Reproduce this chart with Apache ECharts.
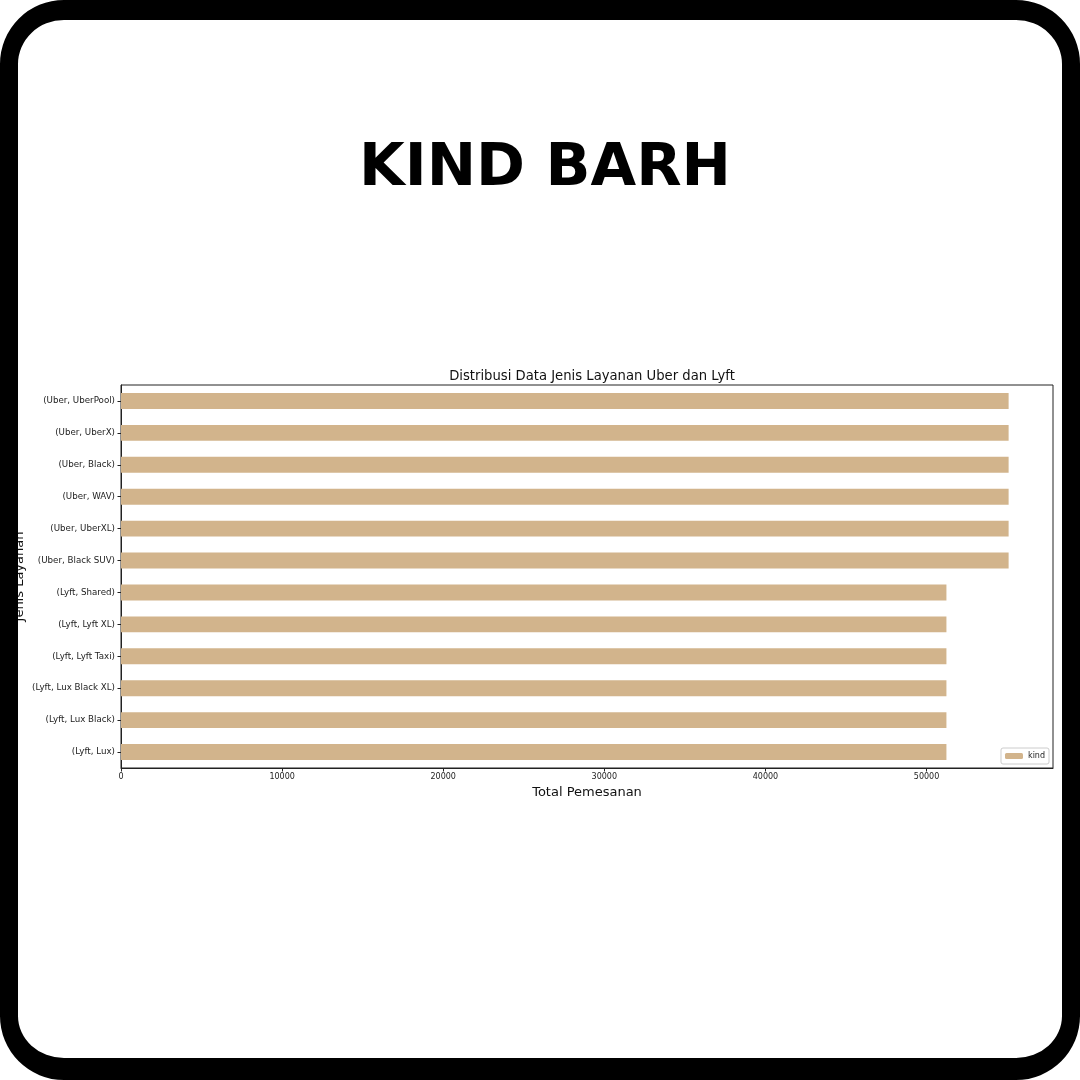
<!DOCTYPE html>
<html>
<head>
<meta charset="utf-8">
<script src="https://cdn.jsdelivr.net/npm/echarts@6/dist/echarts.min.js"></script>
<style>
  html, body { margin: 0; padding: 0; background: #fff; }
  #wrap { position: relative; width: 1080px; height: 1080px; }
  #chart { position: absolute; left: 0; top: 0; width: 1080px; height: 1080px; }
  /* black rounded frame drawn over the chart */
  #frame {
    position: absolute; left: 0; top: 0; width: 1080px; height: 1080px;
    box-sizing: border-box; border-style: solid; border-color: #000;
    border-width: 20px 18px 22px 18px; border-radius: 64px;
    pointer-events: none;
  }
</style>
</head>
<body>
<div id="wrap">
  <div id="chart"></div>
  <div id="frame"></div>
</div>
<script>
// bottom to top, like the y axis
var categories = [
  "(Lyft, Lux)", "(Lyft, Lux Black)", "(Lyft, Lux Black XL)", "(Lyft, Lyft Taxi)",
  "(Lyft, Lyft XL)", "(Lyft, Shared)", "(Uber, Black SUV)", "(Uber, UberXL)",
  "(Uber, WAV)", "(Uber, Black)", "(Uber, UberX)", "(Uber, UberPool)"
];
var kindValues = [51235, 51235, 51235, 51235, 51235, 51235, 55095, 55095, 55095, 55095, 55095, 55095];
var xTicks = [0, 10000, 20000, 30000, 40000, 50000];

var chart = echarts.init(document.getElementById("chart"));

var xMax = Math.max.apply(null, kindValues) * 1.05; // matplotlib margin

chart.setOption({
  backgroundColor: "#fff",
  animation: false,
  title: [
    {
      text: "KIND BARH",
      left: 540,
      top: 135,
      textAlign: "center",
      textStyle: {
        fontFamily: "DejaVu Sans",
        fontWeight: "bold",
        fontSize: 59,
        color: "#000"
      }
    },
    {
      text: "Distribusi Data Jenis Layanan Uber dan Lyft",
      left: 587,
      top: 365,
      textAlign: "center",
      textStyle: {
        fontFamily: "DejaVu Sans",
        fontWeight: "normal",
        fontSize: 13.2,
        color: "#111"
      }
    }
  ],
  legend: {
    data: ["kind"],
    right: 31,
    bottom: 316,
    orient: "vertical",
    itemWidth: 18,
    itemHeight: 6,
    itemGap: 4,
    padding: [4, 4, 4, 4],
    borderColor: "#ccc",
    borderWidth: 1,
    borderRadius: 2,
    backgroundColor: "#fff",
    textStyle: { fontFamily: "DejaVu Sans", fontSize: 8, color: "#222" }
  },
  grid: {
    left: 121,
    right: 27,
    top: 385,
    bottom: 312,
    show: true,
    borderColor: "#222",
    borderWidth: 1,
    containLabel: false
  },
  xAxis: {
    type: "value",
    min: 0,
    max: xMax,
    interval: 10000,
    name: "Total Pemesanan",
    nameLocation: "middle",
    nameGap: 18,
    nameMoveOverlap: false,
    nameTextStyle: { fontFamily: "DejaVu Sans", fontSize: 13, color: "#111" },
    axisLine: { show: true, lineStyle: { color: "#222", width: 1 } },
    axisTick: { show: true, length: 3.5, customValues: xTicks, lineStyle: { color: "#222" } },
    axisLabel: {
      customValues: xTicks,
      formatter: function (v) { return String(v); },
      fontFamily: "DejaVu Sans",
      fontSize: 8,
      color: "#222",
      margin: 5
    },
    splitLine: { show: false }
  },
  yAxis: {
    type: "category",
    data: categories,
    name: "Jenis Layanan",
    nameLocation: "middle",
    nameGap: 95,
    nameMoveOverlap: false,
    nameTextStyle: { fontFamily: "DejaVu Sans", fontSize: 13, color: "#111" },
    axisLine: { show: true, lineStyle: { color: "#222", width: 1 } },
    axisTick: { show: true, alignWithLabel: true, length: 3.5, lineStyle: { color: "#222" } },
    axisLabel: { fontFamily: "DejaVu Sans", fontSize: 8.7, color: "#222", margin: 6 },
    splitLine: { show: false }
  },
  series: [
    {
      name: "kind",
      type: "bar",
      data: kindValues,
      barWidth: "50%",
      itemStyle: { color: "#D2B48C" }
    }
  ]
});
</script>
</body>
</html>
